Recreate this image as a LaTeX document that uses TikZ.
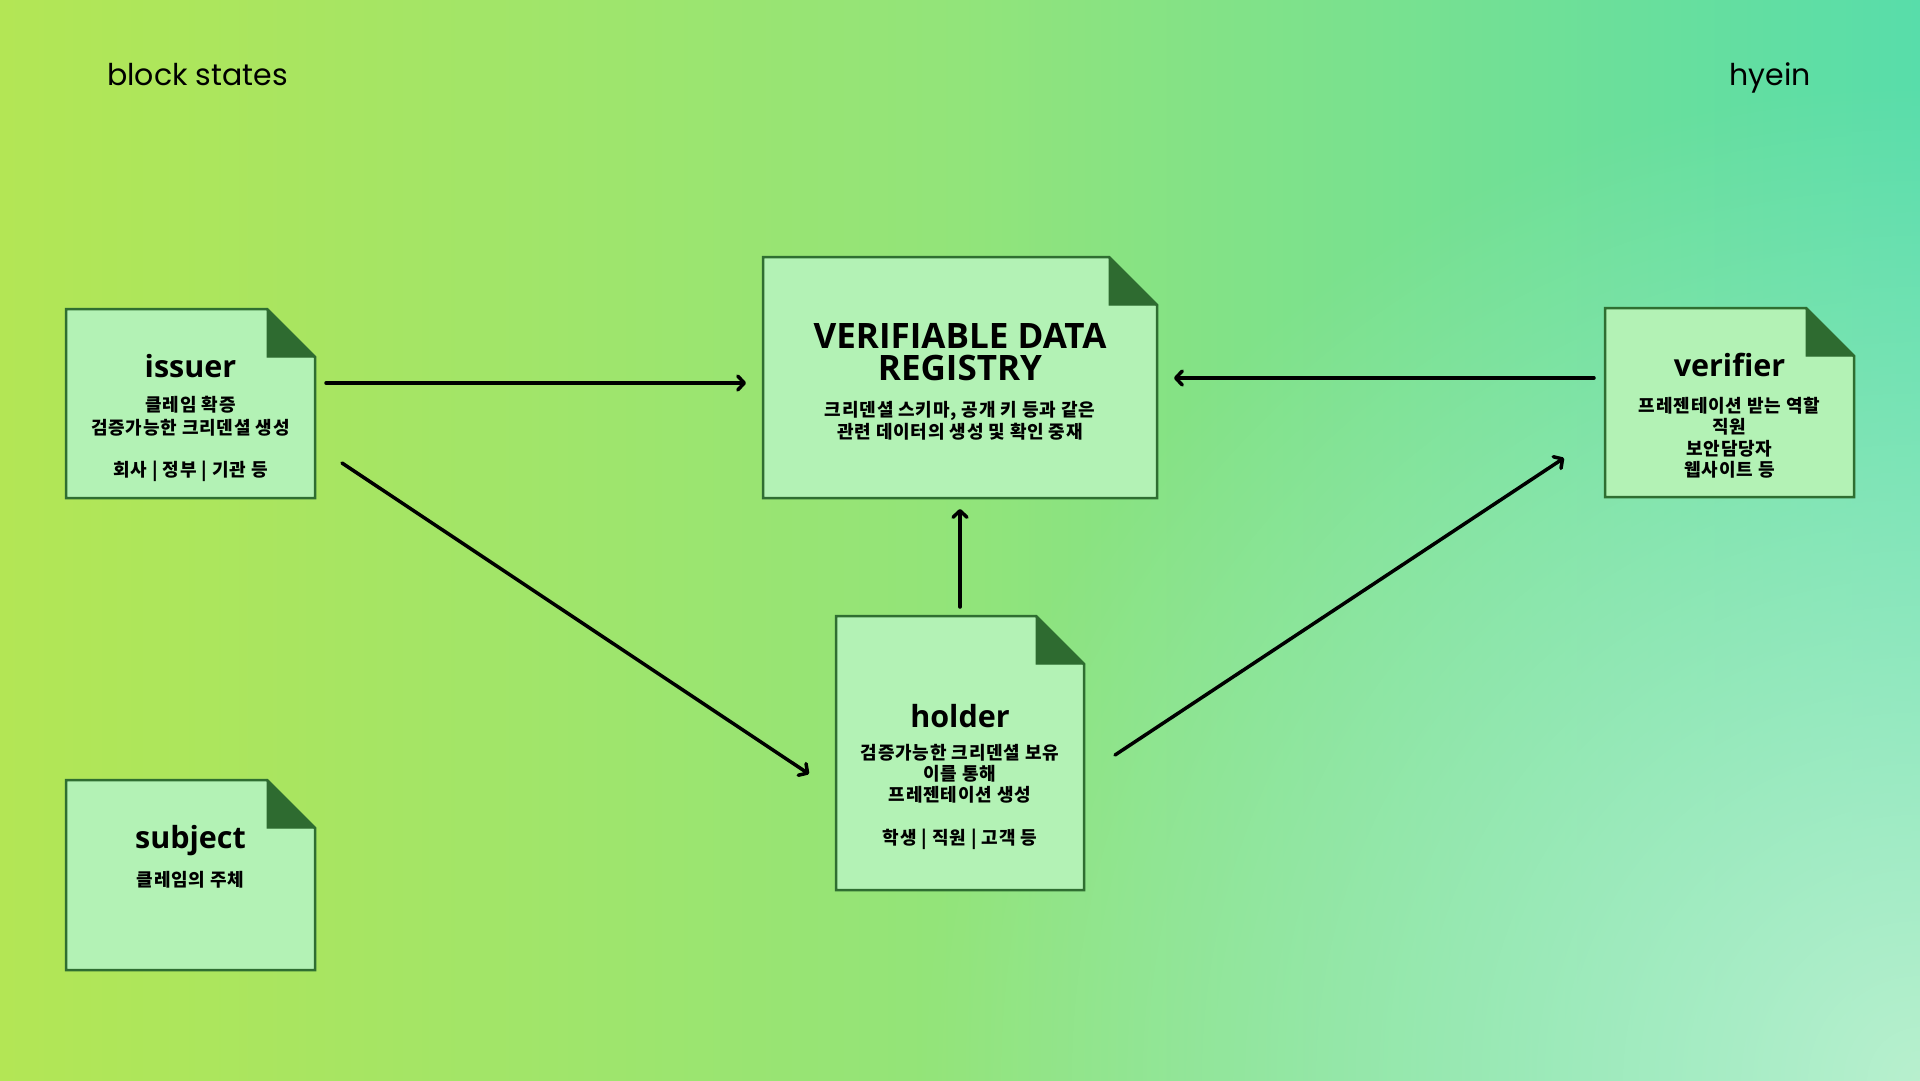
\documentclass[tikz,border=0pt]{standalone}
\usepackage{fontspec}
\usetikzlibrary{arrows.meta,calc,fadings}
\newfontfamily\titlefont{Open Sans}
\newfontfamily\korfont{Noto Sans CJK KR}[LetterSpace=4.5]
\newfontfamily\labelfont{Poppins}
\definecolor{bgL}{HTML}{B3E655}
\definecolor{bgM}{HTML}{92E47A}
\definecolor{bgR}{HTML}{58DDAA}
\definecolor{bgC}{HTML}{B8F0CE}
\definecolor{cardfill}{HTML}{B3F2B5}
\definecolor{cardline}{HTML}{2F6E31}
\definecolor{folddark}{HTML}{2E6B30}
\tikzfading[name=cornerfade, inner color=transparent!0, outer color=transparent!100]
\tikzset{
  card/.style={rectangle, draw=none, fill=none, inner sep=0pt, outer sep=0pt},
  ttl/.style={inner sep=0pt, anchor=base, font=\titlefont\bfseries\fontsize{30.5}{32}\selectfont},
  body/.style={inner sep=0pt, align=center, anchor=north, font=\korfont\bfseries\fontsize{18}{#1}\selectfont},
  body/.default=22,
  conn/.style={line width=3.5pt, line cap=round, -{Straight Barb[length=6.5pt,width=14pt,round]}},
  corner/.style={inner sep=0pt, font=\labelfont\fontsize{30}{32}\selectfont}
}
\newcommand\dogear[1]{%
  \draw[cardline, line width=2.5pt, fill=cardfill, line join=miter]
    (#1.south west) -- (#1.north west) -- ($(#1.north east)+(-48,0)$)
    -- ($(#1.north east)+(0,48)$) -- (#1.south east) -- cycle;
  \filldraw[folddark, line width=1pt, line join=miter]
    ($(#1.north east)+(-48,0)$) -- ($(#1.north east)+(-48,48)$)
    -- ($(#1.north east)+(0,48)$) -- cycle;}
\begin{document}
\begin{tikzpicture}[x=1pt, y=-1pt]
\useasboundingbox (0,0) rectangle (1920,1080);
\begin{scope}
  \clip (0,0) rectangle (1920,1080);
  \shade[left color=bgL, right color=bgR, middle color=bgM] (0,0) rectangle (1920,1080);
  \fill[bgC, path fading=cornerfade] (1920,1080) circle[radius=1000pt];
\end{scope}

% corner labels
\node[corner, anchor=base west] (bs) at (107,85) {block states};
\node[corner, anchor=base east] (hy) at (1811,85) {hyein};

% cards
\node[card, minimum width=249pt, minimum height=189pt] (issuer) at (190.5,403.5) {};
\dogear{issuer}
\node[card, minimum width=394pt, minimum height=241pt] (vdr) at (960,377.5) {};
\dogear{vdr}
\node[card, minimum width=249pt, minimum height=189pt] (verifier) at (1729.5,402.5) {};
\dogear{verifier}
\node[card, minimum width=248pt, minimum height=274pt] (holder) at (960,753) {};
\dogear{holder}
\node[card, minimum width=249pt, minimum height=190pt] (subject) at (190.5,875) {};
\dogear{subject}

% texts
\node[ttl] (issuerT) at (190.5,377) {issuer};
\node[body=22.5] (issuerB) at (190.5,396) {클레임 확증\\검증가능한 크리덴셜 생성\\[20pt]회사 | 정부 | 기관 등};

\node[ttl, anchor=north, align=center, font=\titlefont\bfseries\fontsize{35}{32}\selectfont] (vdrT) at (960,323) {VERIFIABLE DATA\\REGISTRY};
\node[body=22] (vdrB) at (960,401) {크리덴셜 스키마, 공개 키 등과 같은\\관련 데이터의 생성 및 확인 중재};

\node[ttl] (verifierT) at (1729.5,376) {verifier};
\node[body=21.5] (verifierB) at (1729.5,397) {프레젠테이션 받는 역할\\직원\\보안담당자\\웹사이트 등};

\node[ttl] (holderT) at (960,727) {holder};
\node[body=21] (holderB) at (960,744) {검증가능한 크리덴셜 보유\\이를 통해\\프레젠테이션 생성\\[22pt]학생 | 직원 | 고객 등};

\node[ttl] (subjectT) at (190.5,848) {subject};
\node[body] (subjectB) at (190.5,871) {클레임의 주체};

% connectors
\draw[conn] ($(issuer.east)+(11,-20.5)$) -- ($(vdr.west)+(-17,5.5)$);
\draw[conn] ($(verifier.west)+(-11,-24.5)$) -- ($(vdr.east)+(17,0.5)$);
\draw[conn] ($(holder.north)+(0,-9)$) -- ($(vdr.south)+(0,11)$);
\draw[conn] ($(issuer.east)+(27,59.5)$) -- ($(holder.west)+(-27,21)$);
\draw[conn] ($(holder.east)+(31,2)$) -- ($(verifier.west)+(-41,55.5)$);
\end{tikzpicture}
\end{document}
